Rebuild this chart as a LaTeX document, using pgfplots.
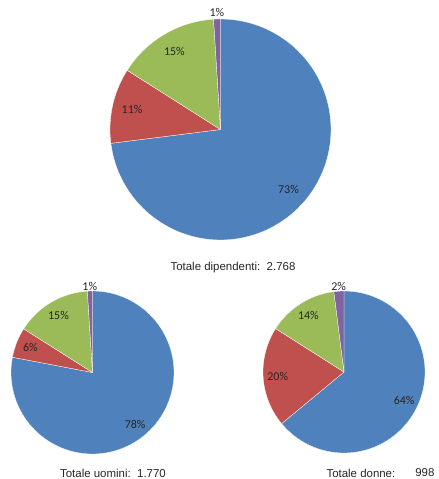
\documentclass[border=0pt]{standalone}
\usepackage{pgfplots}
\pgfplotsset{compat=1.18}
\usepackage{fontspec}
\setmainfont{Liberation Sans}
\newfontfamily\carlito{Carlito}
\definecolor{pblue}{HTML}{4F81BD}
\definecolor{pred}{HTML}{C0504D}
\definecolor{pgreen}{HTML}{9BBB59}
\definecolor{ppurple}{HTML}{8064A2}

\newcommand{\drawpie}[1]{%
  \xdef\cum{0}%
  \foreach \p/\c in {#1} {%
    \pgfmathsetmacro\a{90-3.6*\cum}%
    \pgfmathsetmacro\b{90-3.6*(\cum+\p)}%
    \pgfmathsetmacro\m{(\a+\b)/2}%
    \pgfmathsetmacro\rr{\p<3 ? 1.06 : 0.82}%
    \pgfmathsetmacro\lx{\rr*cos(\m)}%
    \pgfmathsetmacro\ly{\rr*sin(\m)}%
    \edef\temp{\noexpand\addplot[fill=\c, draw=white, line width=0.3pt, domain=\b:\a, samples=90] ({cos(x)},{sin(x)}) -- (axis cs:0,0) -- cycle;
      \noexpand\node[font=\noexpand\carlito\noexpand\fontsize{12}{14}\noexpand\selectfont, text=black!85] at (axis cs:\lx,\ly) {\p\noexpand\%};}%
    \temp
    \pgfmathsetmacro\newcum{\cum+\p}%
    \xdef\cum{\newcum}%
  }%
}

\pgfplotsset{pieaxis/.style={hide axis, scale only axis, xmin=-1, xmax=1, ymin=-1, ymax=1, clip=false, anchor=center}}

\begin{document}
\begin{tikzpicture}
\useasboundingbox (0,0) rectangle (439bp,-479bp);
\begin{axis}[pieaxis, width=221bp, height=221bp, at={(220.5bp,-129.5bp)}]
\drawpie{73/pblue,11/pred,15/pgreen,1/ppurple}
\end{axis}
\begin{axis}[pieaxis, width=163bp, height=163bp, at={(92.5bp,-372.5bp)}]
\drawpie{78/pblue,6/pred,15/pgreen,1/ppurple}
\end{axis}
\begin{axis}[pieaxis, width=162bp, height=162bp, at={(344bp,-372bp)}]
\drawpie{64/pblue,20/pred,14/pgreen,2/ppurple}
\end{axis}
\begin{scope}[every node/.style={font=\fontsize{11.5}{13}\selectfont, text=black!85}]
\node at (233bp,-268bp) {Totale dipendenti:\ \ 2.768};
\node at (113bp,-473bp) {Totale uomini:\ \ 1.770};
\node[anchor=west] at (323bp,-473bp) {Totale donne:};
\node[anchor=east] at (438bp,-473bp) {998};
\end{scope}
\end{tikzpicture}
\end{document}
